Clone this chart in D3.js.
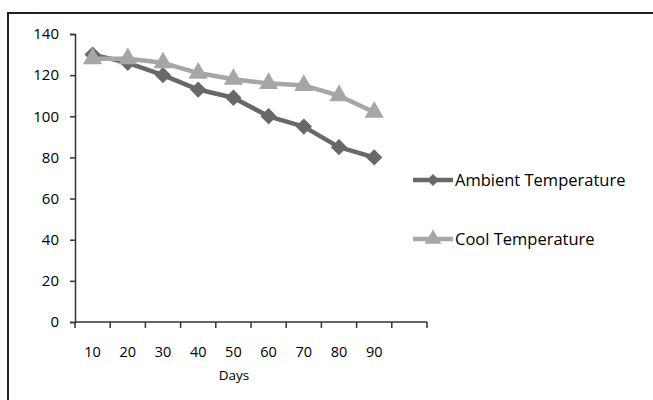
<!DOCTYPE html>
<html>
<head>
<meta charset="utf-8">
<script src="https://cdn.jsdelivr.net/npm/d3@7"></script>
<style>
  body { margin: 0; background: #fff; }
  text { font-family: "Open Sans", sans-serif; fill: #000; }
</style>
</head>
<body>
<script>
// data
let days = ["10", "20", "30", "40", "50", "60", "70", "80", "90", ""];
let ambient = [130, 126, 120, 113, 109, 100, 95, 85, 80];
let cool = [128, 128, 126, 121, 118, 116, 115, 110, 102];
let yTicks = [0, 20, 40, 60, 80, 100, 120, 140];

let svg = d3.select("body").append("svg")
	.attr("width", 653)
	.attr("height", 400);

// outer frame, runs off the right and bottom edge
svg.append("path")
	.attr("d", "M8,420 V13 H660")
	.attr("fill", "none")
	.attr("stroke", "#222")
	.attr("stroke-width", 2);

let plotLeft = 75, plotRight = 427, plotTop = 34, plotBottom = 322;

let x = d3.scaleBand()
	.domain(days.map((d, i) => i))
	.range([plotLeft, plotRight]);

let y = d3.scaleLinear()
	.domain([0, 140])
	.range([plotBottom, plotTop]);

// y axis
let yAxis = svg.append("g")
	.attr("transform", `translate(${plotLeft},0)`)
	.call(d3.axisLeft(y).tickValues(yTicks).tickSize(5).tickPadding(11));
yAxis.select(".domain").attr("stroke", "#333").attr("stroke-width", 1.5);
yAxis.selectAll(".tick line").attr("stroke", "#333").attr("stroke-width", 1.5);
yAxis.selectAll("text")
	.attr("font-size", 15)
	.style("font-family", "'Open Sans', sans-serif")
	.style("fill", "#000");

// x axis, ticks sit at category boundaries
let xAxis = svg.append("g")
	.attr("transform", `translate(0,${plotBottom})`);
xAxis.append("line")
	.attr("x1", plotLeft).attr("x2", plotRight)
	.attr("stroke", "#333").attr("stroke-width", 1.5);
xAxis.selectAll(".xt")
	.data(days.map((d, i) => i).concat([days.length]))
	.enter().append("line")
	.attr("x1", i => i < days.length ? x(i) : plotRight)
	.attr("x2", i => i < days.length ? x(i) : plotRight)
	.attr("y1", 0).attr("y2", 6)
	.attr("stroke", "#333").attr("stroke-width", 1.5);
xAxis.selectAll(".xl")
	.data(days)
	.enter().append("text")
	.attr("x", (d, i) => x(i) + x.bandwidth() / 2)
	.attr("y", 35)
	.attr("text-anchor", "middle")
	.attr("font-size", 14.5)
	.text(d => d);

svg.append("text")
	.attr("x", 234)
	.attr("y", 380)
	.attr("text-anchor", "middle")
	.attr("font-size", 13.5)
	.text("Days");

let cx = i => x(i) + x.bandwidth() / 2;
let line = d3.line()
	.x((d, i) => cx(i))
	.y(d => y(d));

let series = [
	{ name: "Ambient Temperature", values: ambient, color: "#686868", type: d3.symbolDiamond2, size: 170, legendSize: 90, ly: 180 },
	{ name: "Cool Temperature", values: cool, color: "#a6a6a6", type: d3.symbolTriangle, size: 160, legendSize: 120, ly: 239 }
];

series.forEach(s => {
	svg.append("path")
		.attr("d", line(s.values))
		.attr("fill", "none")
		.attr("stroke", s.color)
		.attr("stroke-width", 4.5)
		.attr("stroke-linejoin", "round");

	svg.selectAll(null)
		.data(s.values)
		.enter().append("path")
		.attr("transform", (d, i) => `translate(${cx(i)},${y(d)})`)
		.attr("d", d3.symbol().type(s.type).size(s.size))
		.attr("fill", s.color);

	// legend
	svg.append("line")
		.attr("x1", 413).attr("x2", 453)
		.attr("y1", s.ly).attr("y2", s.ly)
		.attr("stroke", s.color)
		.attr("stroke-width", 4.5);
	svg.append("path")
		.attr("transform", `translate(433,${s.ly})`)
		.attr("d", d3.symbol().type(s.type).size(s.legendSize))
		.attr("fill", s.color);
	svg.append("text")
		.attr("x", 455)
		.attr("y", s.ly + 6)
		.attr("font-size", 16.5)
		.text(s.name);
});
</script>
</body>
</html>
